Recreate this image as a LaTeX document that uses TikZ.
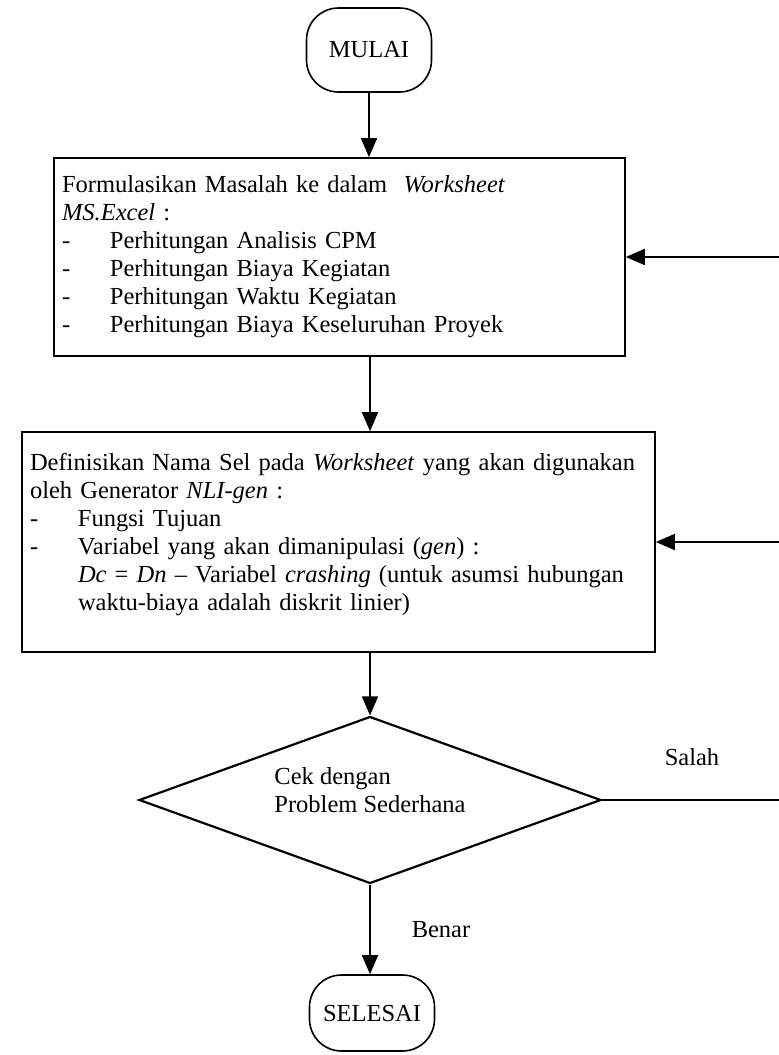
\documentclass[tikz,border=0pt]{standalone}
\usepackage{fontspec}
\setmainfont{Liberation Serif}
\usepackage{tikz}
\usetikzlibrary{shapes.geometric, arrows.meta, positioning, calc}

\newlength{\dashw}
\setlength{\dashw}{48pt}
\newcommand{\itemdash}{\makebox[\dashw][l]{-}}
\newcommand{\itemgap}{\hspace*{\dashw}}

\tikzset{
    txt/.style={font=\fontsize{24.5}{28}\selectfont},
    link/.style={line width=1.6pt},
    flow/.style={line width=1.6pt, -{Triangle[length=19pt,width=16pt]}},
    termbox/.style={draw, txt, line width=1.6pt, rounded corners=32pt, minimum width=125pt, minimum height=84pt},
    procbox/.style={draw, txt, line width=1.6pt, align=left, inner xsep=8pt, inner ysep=6pt},
    decbox/.style={draw, txt, diamond, line width=2.2pt, aspect=2.77, inner sep=0pt, align=left, minimum width=462pt, minimum height=167pt}
}

\begin{document}
\begin{tikzpicture}[x=1pt, y=-1pt]
    \useasboundingbox (0,0) rectangle (779,1055);

    % Start
    \node[termbox] (mulai) at (369,50) {MULAI};

    % Formulasi di Excel
    \node[procbox, text width=555pt, minimum height=198pt] (form) at (339.5,257) {%
        Formulasikan Masalah ke dalam \ \textit{Worksheet}\\
        \textit{MS.Excel} :\\
        \itemdash Perhitungan Analisis CPM\\
        \itemdash Perhitungan Biaya Kegiatan\\
        \itemdash Perhitungan Waktu Kegiatan\\
        \itemdash Perhitungan Biaya Keseluruhan Proyek\\[-22pt]\mbox{}};

    % Definisi nama sel
    \node[procbox, text width=617pt, minimum height=220pt] (cell) at (338.5,542) {%
        Definisikan Nama Sel pada \textit{Worksheet} yang akan digunakan\\
        oleh Generator \textit{NLI-gen} :\\
        \itemdash Fungsi Tujuan\\
        \itemdash Variabel yang akan dimanipulasi (\textit{gen}) :\\
        \itemgap\textit{Dc} = \textit{Dn} -- Variabel \textit{crashing} (untuk asumsi hubungan\\
        \itemgap waktu-biaya adalah diskrit linier)\\[-8pt]\mbox{}};

    % Keputusan
    \node[decbox] (cek) at (370,800) {Cek dengan\\Problem Sederhana\\[-8pt]\mbox{}};

    % Selesai
    \node[termbox, minimum height=76pt] (selesai) at (372,1013) {SELESAI};

    % Labels
    \node[txt] (salah) at (692,757) {Salah};
    \node[txt] (benar) at (441,930) {Benar};

    % Connectors
    \coordinate (rt) at (782,800);
    \draw[flow] (mulai.south) -- (mulai.south |- form.north);
    \draw[flow] (cek.north |- form.south) -- (cek.north |- cell.north);
    \draw[flow] (cek.north |- cell.south) -- (cek.north);
    \draw[flow] (cek.south) -- (cek.south |- selesai.north);
    \draw[link] (cek.east) -- (rt);
    \draw[flow] (rt) |- (form.east);
    \draw[flow] (rt |- cell.east) -- (cell.east);
\end{tikzpicture}
\end{document}
